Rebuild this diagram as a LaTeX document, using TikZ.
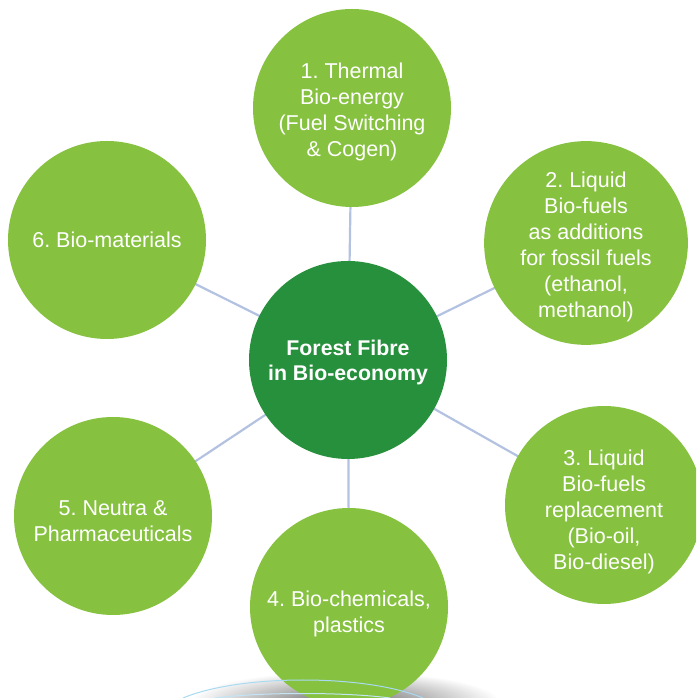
\documentclass[tikz,border=0pt]{standalone}
\usepackage{fontspec}
\setmainfont{Liberation Sans}
\frenchspacing
\usetikzlibrary{shadings}
\definecolor{leaf}{HTML}{86C240}
\definecolor{forest}{HTML}{26903C}
\definecolor{spoke}{HTML}{B4C2E2}
\definecolor{arcblue}{HTML}{A8DAF2}
\newcommand{\liftdown}[2]{\raisebox{-#1}[\height][\depth]{\begin{tabular}{@{}c@{}}#2\end{tabular}}}
\tikzset{
  topic/.style={circle, fill=leaf, minimum size=198pt, inner sep=0pt, text=white,
    align=center, font=\fontsize{21.5}{26}\selectfont},
  hub/.style={circle, fill=forest, minimum size=198pt, inner sep=0pt, text=white,
    align=center, font=\fontsize{21.3}{25}\selectfont\bfseries},
  spokeline/.style={draw=spoke, line width=2.2pt},
  arcline/.style={draw=arcblue, line width=1pt}
}
\begin{document}
\begin{tikzpicture}[x=1pt,y=1pt]
\useasboundingbox (0,0) rectangle (696,698);
\clip (0,0) rectangle (696,698);
\fill[white] (0,0) rectangle (696,698);
% shadow at bottom
\shade[inner color=black!60, outer color=white] (345,-4) ellipse [x radius=155, y radius=31];
% node positions
\coordinate (pc) at (348,338);
\coordinate (p1) at (352,590);
\coordinate (p2) at (586,455);
\coordinate (p3) at (604,193);
\coordinate (p4) at (349,91);
\coordinate (p5) at (113,182);
\coordinate (p6) at (107,458);
% spokes behind the circles
\foreach \n in {p1,p2,p3,p4,p5,p6}{
  \path[spokeline] (pc) -- (\n);
}
% circles
\node[hub] (c) at (pc) {\liftdown{3pt}{Forest Fibre\\in Bio-economy}};
\node[topic] (n1) at (p1) {\liftdown{4pt}{1. Thermal\\Bio-energy\\(Fuel Switching\\\& Cogen)}};
\node[topic] (n2) at (p2) {\liftdown{4pt}{2. Liquid\\Bio-fuels\\as additions\\for fossil fuels\\(ethanol,\\methanol)}};
\node[topic] (n3) at (p3) {\liftdown{7pt}{3. Liquid\\Bio-fuels\\replacement\\(Bio-oil,\\Bio-diesel)}};
\node[topic] (n4) at (p4) {\liftdown{7pt}{4. Bio-chemicals,\\plastics}};
\node[topic] (n5) at (p5) {\liftdown{7pt}{5. Neutra \&\\Pharmaceuticals}};
\node[topic] (n6) at (p6) {6. Bio-materials};
% light arcs at the bottom
\coordinate (a1) at (183,0);
\coordinate (a2) at (423,0);
\coordinate (b1) at (215,0);
\coordinate (b2) at (390,0);
\draw[arcline] (a1) .. controls (240,24) and (366,24) .. (a2);
\draw[arcline, draw=arcblue!70] (b1) .. controls (260,6) and (345,6) .. (b2);
\end{tikzpicture}
\end{document}
